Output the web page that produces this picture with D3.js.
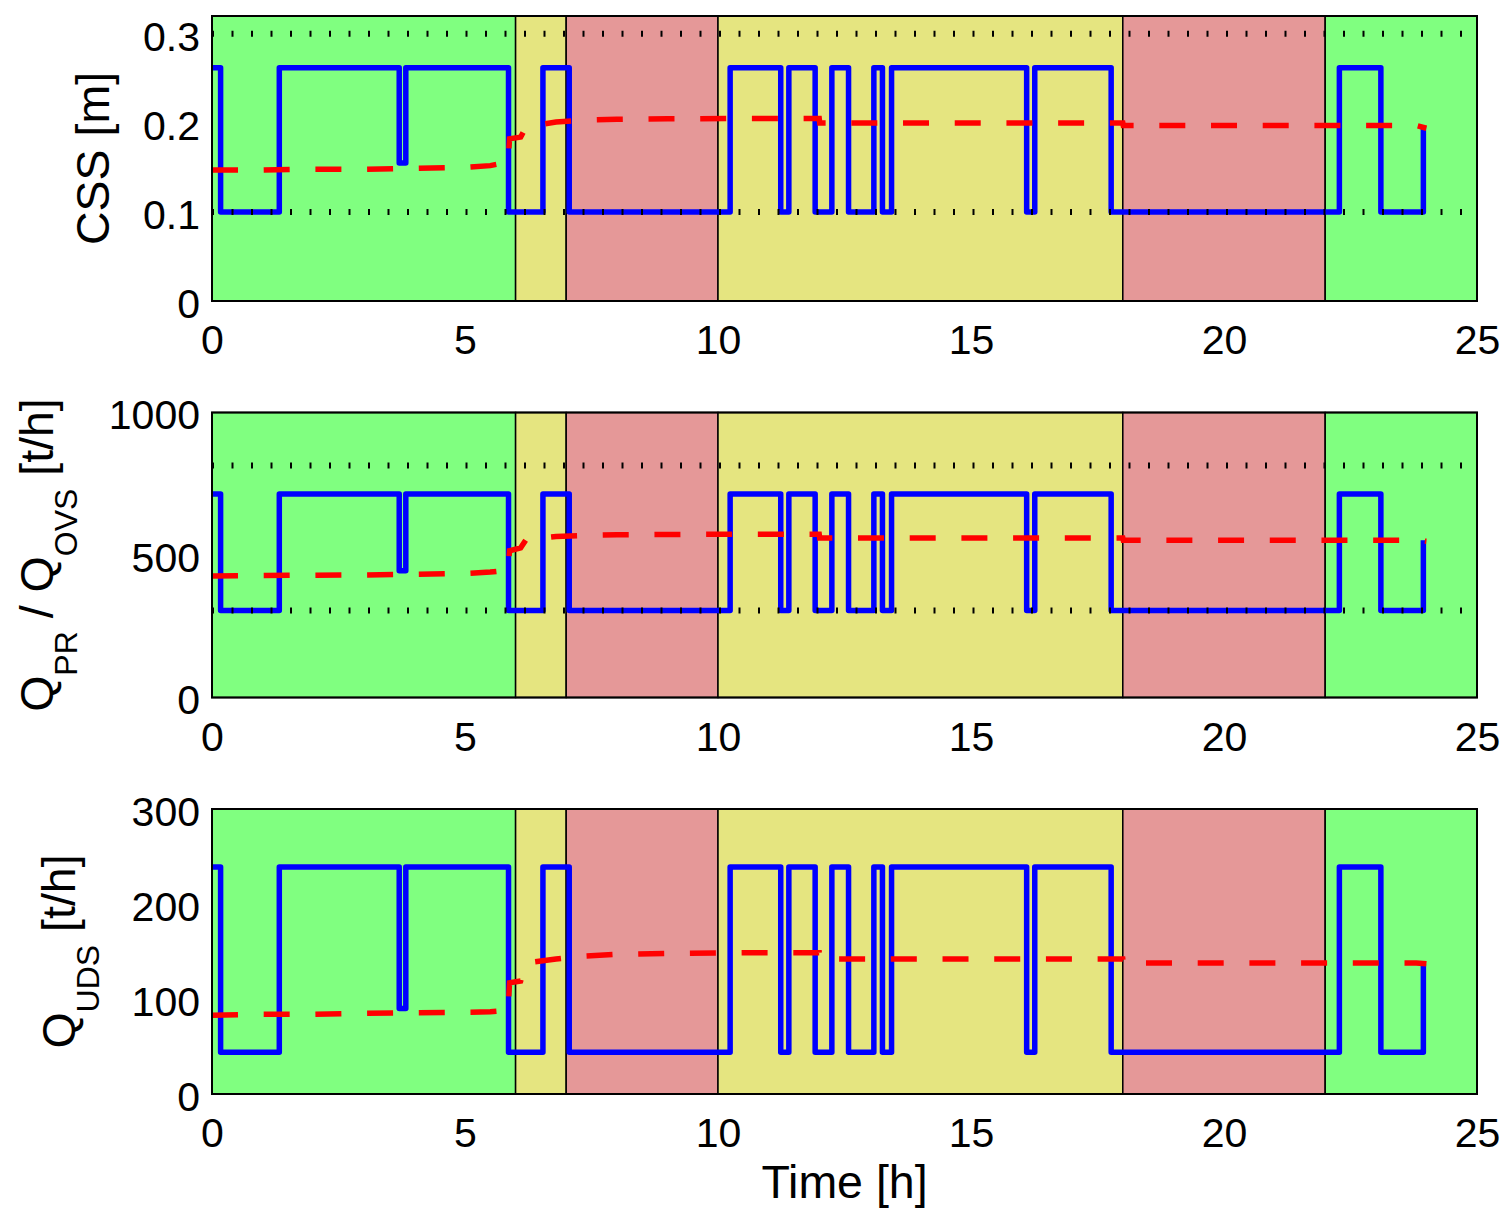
<!DOCTYPE html>
<html>
<head>
<meta charset="utf-8">
<script src="https://cdn.jsdelivr.net/npm/d3@7"></script>
<style>
body { margin: 0; background: #fff; }
text { font-family: "Liberation Sans", Arial, Helvetica, sans-serif; fill: #000; white-space: pre; }
</style>
</head>
<body>
<div id="chart-area"></div>
<script>
// ---- values ----

// time axis
var xTicks = [0, 5, 10, 15, 20, 25];

// tariff periods (background bands)
var regionStarts = [0, 6, 7, 10, 18, 22];
var regionEnds   = [6, 7, 10, 18, 22, 25];
var regionKinds  = ["low", "mid", "high", "mid", "high", "low"];

// blue step signal: switching instants [h] and the level held from each instant
var stepTimes = [0, 0.17, 1.33, 3.70, 3.83, 5.86, 6.54, 7.06, 10.24, 11.24, 11.40, 11.92,
                 12.25, 12.58, 13.08, 13.25, 13.43, 16.10, 16.26, 17.77, 22.28, 23.10, 23.94];
var cssBlue  = [0.262, 0.1, 0.262, 0.155, 0.262, 0.1, 0.262, 0.1, 0.262, 0.1, 0.262, 0.1,
                0.262, 0.1, 0.262, 0.1, 0.262, 0.1, 0.262, 0.1, 0.262, 0.1, 0.196];
var qprBlue  = [714, 305, 714, 445, 714, 305, 714, 305, 714, 305, 714, 305,
                714, 305, 714, 305, 714, 305, 714, 305, 714, 305, 552];
var qudsBlue = [239, 44, 239, 90, 239, 44, 239, 44, 239, 44, 239, 44,
                239, 44, 239, 44, 239, 44, 239, 44, 239, 44, 137];

// red dashed signal
var redTimes = [0, 1, 2, 3, 4, 5, 5.5, 5.85, 5.88, 6.1, 6.2, 6.35, 6.8, 7.3, 8, 9, 10.5,
                12, 12.01, 18, 18.01, 23.8, 24];
var cssRed  = [0.147, 0.147, 0.148, 0.148, 0.149, 0.150, 0.152, 0.156, 0.182, 0.184, 0.195, 0.197,
               0.201, 0.203, 0.204, 0.2045, 0.205, 0.205, 0.200, 0.200, 0.197, 0.197, 0.194];
var qprRed  = [426, 428, 429, 430, 432, 435, 440, 447, 515, 525, 552, 557,
               565, 568, 571, 572, 573, 573, 560, 560, 552, 552, 548];
var qudsRed = [83, 84, 84, 85, 85.5, 86, 86.5, 88, 117, 119, 136, 139,
               142, 145, 147, 148, 148.7, 148.7, 142, 142, 138, 138, 137];

// axis ticks and limit lines
var cssTicks  = [0, 0.1, 0.2, 0.3];
var qprTicks  = [0, 500, 1000];
var qudsTicks = [0, 100, 200, 300];
var cssLimits  = [0.1, 0.3];
var qprLimits  = [305, 814];
var qudsLimits = [];

var regionColors = { low: "#80ff80", mid: "#e5e580", high: "#e59898" };

var panelH = 285;
var panels = [
    { top: 16,    yMax: 0.32, ticks: cssTicks,  blue: cssBlue,  red: cssRed,  limits: cssLimits,
      labelX: 109, label: [{ t: "CSS [m]" }] },
    { top: 412.5, yMax: 1000, ticks: qprTicks,  blue: qprBlue,  red: qprRed,  limits: qprLimits,
      labelX: 53,  label: [{ t: "Q" }, { t: "PR", sub: true }, { t: " / Q" }, { t: "OVS", sub: true }, { t: " [t/h]" }] },
    { top: 809,   yMax: 300,  ticks: qudsTicks, blue: qudsBlue, red: qudsRed, limits: qudsLimits,
      labelX: 75,  label: [{ t: "Q" }, { t: "UDS", sub: true }, { t: " [t/h]" }] }
];

var svg = d3.select("#chart-area")
        .append("svg")
                .attr("width", 1506)
                .attr("height", 1211);

var x = d3.scaleLinear()
        .domain([0, 25])
        .range([212, 1477]);

panels.forEach(function (p) {
        var g = svg.append("g");
        var y = d3.scaleLinear()
                .domain([0, p.yMax])
                .range([p.top + panelH, p.top]);

        // background bands
        g.selectAll("rect.region")
                .data(regionStarts)
                .enter()
                .append("rect")
                .attr("class", "region")
                .attr("x", d => x(d))
                .attr("y", p.top)
                .attr("width", (d, i) => x(regionEnds[i]) - x(d))
                .attr("height", panelH)
                .attr("fill", (d, i) => regionColors[regionKinds[i]])
                .attr("stroke", "#000")
                .attr("stroke-width", 1.5);

        // blue step line
        var blueLine = d3.line()
                .x((d, i) => x(stepTimes[i]))
                .y(d => y(d))
                .curve(d3.curveStepAfter);
        g.append("path")
                .datum(p.blue)
                .attr("d", blueLine)
                .attr("fill", "none")
                .attr("stroke", "#0000ff")
                .attr("stroke-width", 5.5)
                .attr("stroke-linejoin", "round");

        // red dashed line
        var redLine = d3.line()
                .x((d, i) => x(redTimes[i]))
                .y(d => y(d));
        g.append("path")
                .datum(p.red)
                .attr("d", redLine)
                .attr("fill", "none")
                .attr("stroke", "#ff0000")
                .attr("stroke-width", 5.5)
                .attr("stroke-dasharray", "26,25.7");

        // dotted limits
        g.selectAll("line.limit")
                .data(p.limits)
                .enter()
                .append("line")
                .attr("class", "limit")
                .attr("x1", x(0))
                .attr("x2", x(25))
                .attr("y1", d => y(d))
                .attr("y2", d => y(d))
                .attr("stroke", "#000")
                .attr("stroke-width", 6)
                .attr("stroke-dasharray", "2,17.5");

        // box
        g.append("rect")
                .attr("x", x(0))
                .attr("y", p.top)
                .attr("width", x(25) - x(0))
                .attr("height", panelH)
                .attr("fill", "none")
                .attr("stroke", "#000")
                .attr("stroke-width", 2);

        var xAxisCall = d3.axisBottom(x)
                .tickValues(xTicks)
                .tickFormat(d => String(d))
                .tickSize(0)
                .tickPadding(24);
        var xg = g.append("g")
                .attr("transform", "translate(0," + (p.top + panelH) + ")")
                .call(xAxisCall)
                .attr("font-size", 41);
        xg.select(".domain").remove();

        var yAxisCall = d3.axisLeft(y)
                .tickValues(p.ticks)
                .tickFormat(d => String(d))
                .tickSize(0)
                .tickPadding(12);
        var yg = g.append("g")
                .attr("transform", "translate(" + x(0) + ",0)")
                .call(yAxisCall)
                .attr("font-size", 41);
        yg.select(".domain").remove();
        yg.selectAll("text").attr("dy", "0.4em");

        // rotated y label with subscripts
        var lab = g.append("text")
                .attr("transform", "translate(" + p.labelX + "," + (p.top + panelH / 2) + ") rotate(-90)")
                .attr("text-anchor", "middle")
                .attr("font-size", 46.5);
        var shifted = false;
        p.label.forEach(function (part) {
                var ts = lab.append("tspan").text(part.t);
                if (part.sub) {
                        ts.attr("font-size", 32).attr("dy", 24);
                        shifted = true;
                } else if (shifted) {
                        ts.attr("dy", -24);
                        shifted = false;
                }
        });
});

svg.append("text")
        .attr("x", (x(0) + x(25)) / 2)
        .attr("y", 1198)
        .attr("text-anchor", "middle")
        .attr("font-size", 46.5)
        .text("Time [h]");
</script>
</body>
</html>
